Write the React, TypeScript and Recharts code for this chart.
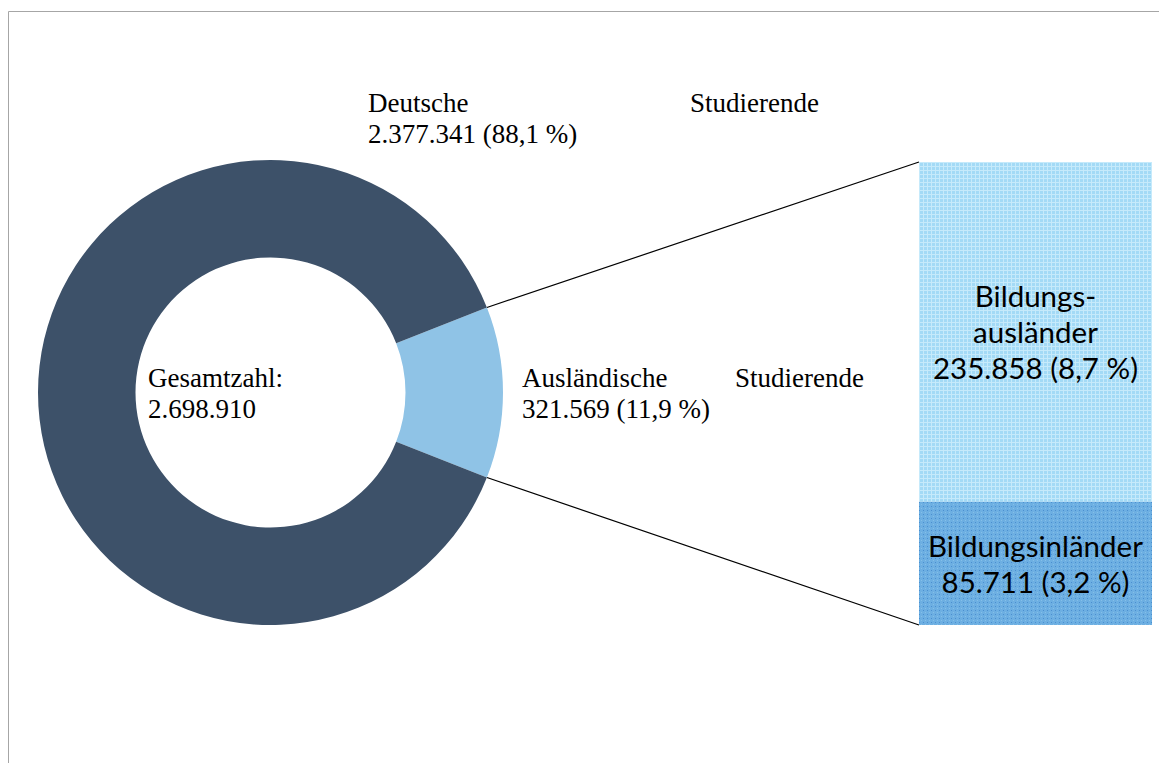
import React from 'react';
import { PieChart, Pie, Cell, BarChart, Bar, XAxis, YAxis, LabelList, Customized } from 'recharts';

// donut: foreign students first so the slice sits centred on the right
const pieNames = ['Ausländische Studierende', 'Deutsche Studierende'];
const pieValues = [321569, 2377341];
const pieColors = ['#8fc3e6', '#3d5169'];

// breakdown of the foreign students, bottom segment first
const barKeys = ['inland', 'ausland'];
const barNames = ['Bildungsinländer', 'Bildungsausländer'];
const barValues = [85711, 235858];
const barLabelLines = [['Bildungsinländer'], ['Bildungs-', 'ausländer']];

const W = 1159;
const H = 755;
const CX = 262.5;
const CY = 384.5;
const R_OUT = 232.5;
const R_IN = 135;
const BAR_X = 911;
const BAR_Y = 154;
const BAR_W = 233;
const BAR_H = 463;

const SERIF = '"Liberation Serif", "Times New Roman", serif';
const SANS = 'Lato, "Open Sans", sans-serif';

const total = pieValues.reduce((a, b) => a + b, 0);
const foreign = pieValues[0];
const halfAngle = (foreign / total) * 180;

const fmtInt = (n: number) => String(n).replace(/\B(?=(\d{3})+(?!\d))/g, '.');
const fmtPct = (n: number) => ((n / total) * 100).toFixed(1).replace('.', ',') + ' %';

const pieData = pieNames.map((name, i) => ({ name, value: pieValues[i] }));
const barRow: Record<string, number | string> = { name: pieNames[0] };
barKeys.forEach((k, i) => (barRow[k] = barValues[i]));
const barData = [barRow];

function Overlay() {
  const rad = (halfAngle * Math.PI) / 180;
  const ex = CX + R_OUT * Math.cos(rad);
  const dy = R_OUT * Math.sin(rad);
  const t = { fontFamily: SERIF, fontSize: 27, fill: '#000' } as const;
  return (
    <g>
      <path d={`M0.5,${H} V3.5 H${W}`} fill="none" stroke="#a6a6a6" strokeWidth={1} />
      <line x1={ex} y1={CY - dy} x2={BAR_X} y2={BAR_Y} stroke="#000" strokeWidth={1.2} />
      <line x1={ex} y1={CY + dy} x2={BAR_X} y2={BAR_Y + BAR_H} stroke="#000" strokeWidth={1.2} />
      <text x={360} y={104} {...t}>Deutsche</text>
      <text x={682} y={104} {...t}>Studierende</text>
      <text x={360} y={135} {...t}>{`${fmtInt(pieValues[1])} (${fmtPct(pieValues[1])})`}</text>
      <text x={140} y={379} {...t}>Gesamtzahl:</text>
      <text x={140} y={410} {...t}>{fmtInt(total)}</text>
      <text x={514} y={379} {...t}>Ausländische</text>
      <text x={727} y={379} {...t}>Studierende</text>
      <text x={514} y={410} {...t}>{`${fmtInt(pieValues[0])} (${fmtPct(pieValues[0])})`}</text>
    </g>
  );
}

function segmentLabel(idx: number) {
  return (props: any) => {
    const { x, y, width, height } = props;
    const lines = [...barLabelLines[idx], `${fmtInt(barValues[idx])} (${fmtPct(barValues[idx])})`];
    const step = 36;
    const cx = Number(x) + Number(width) / 2;
    const top = Number(y) + Number(height) / 2 - ((lines.length - 1) * step) / 2;
    return (
      <text textAnchor="middle" fontFamily={SANS} fontSize={29.5} fill="#000">
        {lines.map((l, i) => (
          <tspan key={i} x={cx} y={top + i * step} dominantBaseline="central">
            {l}
          </tspan>
        ))}
      </text>
    );
  };
}

export default function App() {
  return (
    <div style={{ position: 'relative', width: W, height: H }}>
      <PieChart width={W} height={H} margin={{ top: 0, right: 0, bottom: 0, left: 0 }}>
        <Pie
          data={pieData}
          dataKey="value"
          nameKey="name"
          cx={CX}
          cy={CY}
          innerRadius={R_IN}
          outerRadius={R_OUT}
          startAngle={-halfAngle}
          endAngle={360 - halfAngle}
          stroke="none"
          isAnimationActive={false}
        >
          {pieData.map((d, i) => (
            <Cell key={d.name} fill={pieColors[i]} />
          ))}
        </Pie>
        <Customized component={Overlay} />
      </PieChart>
      <div style={{ position: 'absolute', left: BAR_X, top: BAR_Y }}>
        <BarChart
          width={BAR_W}
          height={BAR_H}
          data={barData}
          margin={{ top: 0, right: 0, bottom: 0, left: 0 }}
          barCategoryGap={0}
        >
          <defs>
            <pattern id="patAus" width={4} height={4} patternUnits="userSpaceOnUse">
              <rect width={4} height={4} fill="#a3daf6" />
              <rect x={0} y={0} width={4} height={1} fill="#c6eafb" />
              <rect x={0} y={0} width={1} height={4} fill="#c6eafb" />
            </pattern>
            <pattern id="patIn" width={4} height={4} patternUnits="userSpaceOnUse">
              <rect width={4} height={4} fill="#6dafe2" />
              <rect x={0} y={0} width={1} height={1} fill="#4b8fd0" />
              <rect x={2} y={2} width={1} height={1} fill="#86bfe8" />
            </pattern>
          </defs>
          <XAxis dataKey="name" hide />
          <YAxis hide domain={[0, foreign]} />
          {barKeys.map((k, i) => (
            <Bar
              key={k}
              dataKey={k}
              name={barNames[i]}
              stackId="a"
              fill={i === 0 ? 'url(#patIn)' : 'url(#patAus)'}
              isAnimationActive={false}
            >
              <LabelList dataKey={k} content={segmentLabel(i)} />
            </Bar>
          ))}
        </BarChart>
      </div>
    </div>
  );
}
